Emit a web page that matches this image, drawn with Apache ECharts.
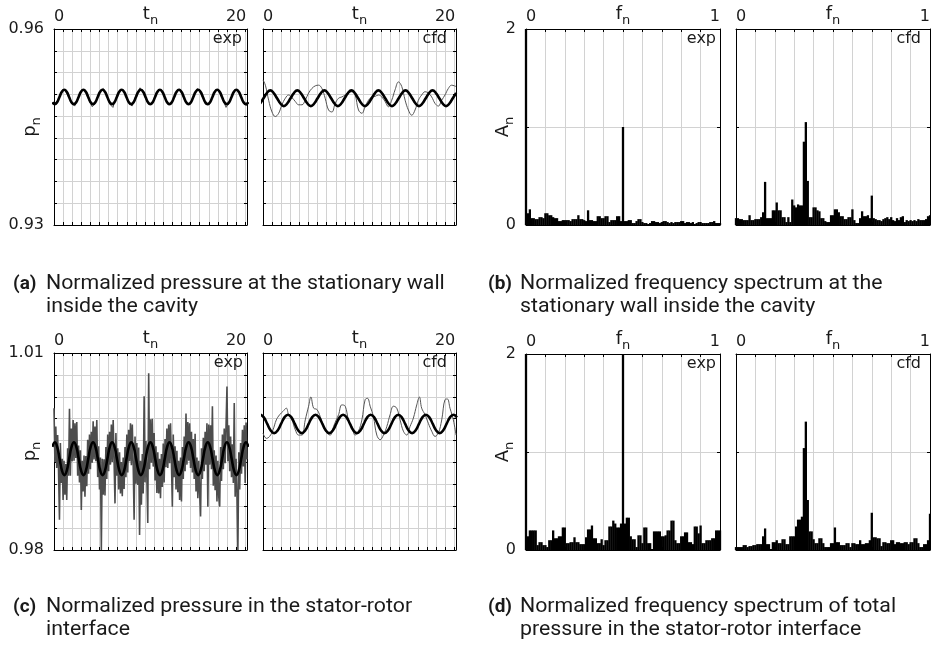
<!DOCTYPE html>
<html>
<head>
<meta charset="utf-8">
<script src="https://cdn.jsdelivr.net/npm/echarts@6/dist/echarts.min.js"></script>
<style>
  html, body { margin: 0; padding: 0; background: #fff; }
  #chart { width: 931px; height: 645px; }
</style>
</head>
<body>
<div id="chart"></div>
<script>
// ---------- axes ----------
const timeExtent = [0, 21.2];
const freqExtent = [0, 1];
const timeTickLabels = [0, 20];
const freqTickLabels = [0, 1];
const wallPressureRange = [0.93, 0.96];
const interfacePressureRange = [0.98, 1.01];
const amplitudeRange = [0, 2];
const freqStep = 0.01;

// ---------- (a) pressure at the stationary wall ----------
// measured signal, sampled every 0.175 from t = 0
const wallExpStep = 0.175;
const wallExpSignal = [
  0.9485,0.9483,0.9490,0.9495,0.9498,0.9505,0.9508,0.9506,0.9503,0.9497,0.9492,0.9487,
  0.9484,0.9482,0.9489,0.9494,0.9500,0.9503,0.9507,0.9508,0.9502,0.9500,0.9491,0.9486,
  0.9481,0.9484,0.9487,0.9494,0.9498,0.9505,0.9506,0.9509,0.9503,0.9498,0.9492,0.9485,
  0.9484,0.9480,0.9488,0.9492,0.9500,0.9504,0.9508,0.9505,0.9504,0.9497,0.9494,0.9487,
  0.9485,0.9482,0.9489,0.9495,0.9499,0.9506,0.9510,0.9506,0.9502,0.9499,0.9491,0.9486,
  0.9483,0.9485,0.9486,0.9493,0.9501,0.9503,0.9507,0.9507,0.9505,0.9498,0.9493,0.9488,
  0.9484,0.9481,0.9488,0.9494,0.9498,0.9505,0.9506,0.9508,0.9503,0.9499,0.9490,0.9487,
  0.9485,0.9483,0.9487,0.9495,0.9500,0.9504,0.9509,0.9506,0.9502,0.9497,0.9492,0.9485,
  0.9482,0.9484,0.9489,0.9492,0.9499,0.9505,0.9507,0.9508,0.9504,0.9498,0.9493,0.9486,
  0.9480,0.9483,0.9488,0.9494,0.9500,0.9503,0.9508,0.9506,0.9503,0.9499,0.9491,0.9487,
  0.9484,0.9482
];
// fitted harmonic, sampled every 0.2625 from t = -0.1825
const wallExpFitStart = -0.1825, wallExpFitStep = 0.2625;
const wallExpFit = [
  0.9488,0.9485,0.9488,0.9496,0.9504,0.9507,0.9504,0.9496,
  0.9488,0.9485,0.9488,0.9496,0.9504,0.9507,0.9504,0.9496,
  0.9488,0.9485,0.9488,0.9496,0.9504,0.9507,0.9504,0.9496,
  0.9488,0.9485,0.9488,0.9496,0.9504,0.9507,0.9504,0.9496,
  0.9488,0.9485,0.9488,0.9496,0.9504,0.9507,0.9504,0.9496,
  0.9488,0.9485,0.9488,0.9496,0.9504,0.9507,0.9504,0.9496,
  0.9488,0.9485,0.9488,0.9496,0.9504,0.9507,0.9504,0.9496,
  0.9488,0.9485,0.9488,0.9496,0.9504,0.9507,0.9504,0.9496,
  0.9488,0.9485,0.9488,0.9496,0.9504,0.9507,0.9504,0.9496,
  0.9488,0.9485,0.9488,0.9496,0.9504,0.9507,0.9504,0.9496,
  0.9488,0.9485,0.9488
];
// simulated signal [t, p]
const wallCfdSignal = [
  [0,0.9522],[0.26,0.9514],[0.62,0.9491],[0.99,0.9473],[1.35,0.9466],[1.72,0.9471],
  [2.08,0.9484],[2.45,0.9494],[2.81,0.9499],[3.18,0.9495],[3.55,0.9489],[3.91,0.9484],
  [4.28,0.9484],[4.64,0.9491],[5.01,0.9502],[5.37,0.9509],[5.74,0.9513],[6.10,0.9514],
  [6.47,0.9509],[6.83,0.9494],[7.20,0.9476],[7.57,0.9473],[7.93,0.9486],[8.30,0.9494],
  [8.66,0.9496],[9.03,0.9499],[9.39,0.9502],[9.76,0.9504],[10.12,0.9499],[10.49,0.9476],
  [10.86,0.9471],[11.22,0.9481],[11.59,0.9491],[11.95,0.9496],[12.32,0.9497],[12.68,0.9499],
  [13.05,0.9496],[13.41,0.9489],[13.78,0.9481],[14.14,0.9491],[14.51,0.9507],[14.88,0.9519],
  [15.24,0.9512],[15.61,0.9491],[15.97,0.9476],[16.34,0.9468],[16.70,0.9476],[17.07,0.9491],
  [17.43,0.9499],[17.80,0.9504],[18.17,0.9502],[18.53,0.9496],[18.90,0.9486],[19.26,0.9482],
  [19.63,0.9491],[19.99,0.9499],[20.36,0.9509],[20.72,0.9514],[21.2,0.9512]
];
const wallCfdFitStart = -0.314, wallCfdFitStep = 0.37125;
const wallCfdFit = [
  0.9486,0.9494,0.9502,0.9506,0.9502,0.9494,0.9486,0.9482,
  0.9486,0.9494,0.9502,0.9506,0.9502,0.9494,0.9486,0.9482,
  0.9486,0.9494,0.9502,0.9506,0.9502,0.9494,0.9486,0.9482,
  0.9486,0.9494,0.9502,0.9506,0.9502,0.9494,0.9486,0.9482,
  0.9486,0.9494,0.9502,0.9506,0.9502,0.9494,0.9486,0.9482,
  0.9486,0.9494,0.9502,0.9506,0.9502,0.9494,0.9486,0.9482,
  0.9486,0.9494,0.9502,0.9506,0.9502,0.9494,0.9486,0.9482,
  0.9486,0.9494,0.9502
];

// ---------- (b) spectrum at the stationary wall, bins of 0.01 ----------
const wallExpSpectrum = [
  2.00,0.12,0.16,0.07,0.07,0.06,0.06,0.08,0.08,0.07,
  0.12,0.12,0.10,0.10,0.08,0.07,0.07,0.04,0.04,0.05,
  0.05,0.05,0.05,0.04,0.06,0.06,0.06,0.10,0.06,0.06,
  0.05,0.04,0.15,0.05,0.05,0.04,0.04,0.09,0.09,0.07,
  0.07,0.09,0.09,0.03,0.05,0.05,0.05,0.09,0.09,0.04,
  1.00,0.04,0.04,0.05,0.05,0.02,0.02,0.04,0.06,0.06,
  0.03,0.02,0.02,0.01,0.02,0.04,0.04,0.03,0.03,0.02,
  0.03,0.04,0.04,0.03,0.02,0.03,0.02,0.03,0.03,0.03,
  0.04,0.04,0.02,0.03,0.03,0.02,0.03,0.01,0.02,0.03,
  0.03,0.02,0.02,0.02,0.02,0.03,0.03,0.04,0.02,0.02,
  0.02
];
const wallCfdSpectrum = [
  0.07,0.07,0.06,0.06,0.05,0.05,0.05,0.10,0.05,0.05,
  0.06,0.06,0.06,0.08,0.13,0.44,0.07,0.07,0.07,0.15,
  0.15,0.23,0.15,0.15,0.08,0.08,0.03,0.08,0.03,0.26,
  0.20,0.18,0.21,0.20,0.20,0.85,1.05,0.45,0.08,0.08,
  0.18,0.18,0.15,0.14,0.07,0.07,0.04,0.03,0.03,0.10,
  0.10,0.16,0.16,0.13,0.09,0.09,0.06,0.06,0.08,0.08,
  0.16,0.05,0.02,0.02,0.07,0.14,0.09,0.09,0.10,0.07,
  0.30,0.07,0.06,0.05,0.05,0.04,0.06,0.07,0.08,0.06,
  0.08,0.05,0.04,0.07,0.05,0.08,0.09,0.03,0.05,0.04,
  0.05,0.04,0.05,0.04,0.06,0.05,0.05,0.05,0.06,0.09,
  0.10
];

// ---------- (c) pressure in the stator-rotor interface ----------
const rotorExpStep = 0.1;
const rotorExpSignal = [
  1.0016,0.9934,0.9988,0.9925,0.9975,0.9920,0.9846,0.9963,0.9902,0.9939,0.9876,0.9936,0.9884,0.9931,0.9876,0.9955,0.9913,1.0015,0.9913,0.9985,0.9935,
  0.9998,0.9936,0.9993,0.9940,0.9995,0.9913,0.9959,0.9903,0.9952,0.9861,0.9936,0.9889,0.9944,0.9881,0.9943,0.9897,0.9968,0.9916,0.9976,0.9923,0.9980,
  0.9933,0.9996,0.9938,0.9988,0.9935,0.9998,0.9911,0.9958,0.9892,0.9941,0.9800,0.9939,0.9884,0.9938,0.9883,0.9957,0.9908,0.9976,0.9920,0.9980,0.9930,
  0.9991,0.9934,0.9998,0.9935,0.9871,0.9978,0.9913,0.9955,0.9892,0.9949,0.9886,0.9934,0.9882,0.9941,0.9893,0.9957,0.9911,0.9976,0.9918,0.9983,0.9935,
  0.9993,0.9929,0.9991,0.9930,0.9846,0.9973,0.9901,0.9963,0.9899,0.9956,0.9823,0.9936,0.9869,0.9946,0.9886,1.0034,0.9903,0.9966,0.9910,0.9841,1.0069,
  0.9923,0.9999,0.9933,1.0000,0.9927,0.9978,0.9906,0.9958,0.9887,0.9949,0.9886,0.9939,0.9879,0.9946,0.9896,0.9962,0.9903,0.9969,0.9926,0.9985,0.9925,
  0.9991,0.9932,0.9993,0.9935,0.9866,0.9976,0.9911,0.9958,0.9892,0.9951,0.9888,0.9936,0.9876,0.9941,0.9874,0.9957,0.9908,0.9973,0.9920,1.0008,0.9930,
  0.9995,0.9936,0.9993,0.9925,0.9980,0.9918,0.9969,0.9908,0.9977,0.9889,0.9941,0.9879,0.9936,0.9886,0.9851,0.9955,0.9908,0.9971,0.9920,0.9980,0.9930,
  0.9993,0.9866,0.9991,0.9930,0.9990,0.9923,1.0019,0.9898,0.9952,0.9891,0.9944,0.9874,0.9936,0.9881,0.9866,0.9957,0.9905,0.9976,0.9923,0.9985,0.9932,
  0.9933,1.0049,0.9935,0.9990,0.9920,0.9973,0.9911,0.9961,0.9902,1.0024,0.9881,0.9939,0.9884,0.9800,0.9949,0.9892,0.9963,0.9916,0.9983,0.9927,0.9990,
  0.9902,0.9994,0.9938
];
const rotorExpFitStart = -0.1725, rotorExpFitStep = 0.2625;
const rotorExpFit = [
  0.9957,0.9964,0.9957,0.9939,0.9921,0.9914,0.9921,0.9939,
  0.9957,0.9964,0.9957,0.9939,0.9921,0.9914,0.9921,0.9939,
  0.9957,0.9964,0.9957,0.9939,0.9921,0.9914,0.9921,0.9939,
  0.9957,0.9964,0.9957,0.9939,0.9921,0.9914,0.9921,0.9939,
  0.9957,0.9964,0.9957,0.9939,0.9921,0.9914,0.9921,0.9939,
  0.9957,0.9964,0.9957,0.9939,0.9921,0.9914,0.9921,0.9939,
  0.9957,0.9964,0.9957,0.9939,0.9921,0.9914,0.9921,0.9939,
  0.9957,0.9964,0.9957,0.9939,0.9921,0.9914,0.9921,0.9939,
  0.9957,0.9964,0.9957,0.9939,0.9921,0.9914,0.9921,0.9939,
  0.9957,0.9964,0.9957,0.9939,0.9921,0.9914,0.9921,0.9939,
  0.9957,0.9964,0.9957
];
const rotorCfdSignal = [
  [0,0.9978],[0.37,0.9970],[0.73,0.9973],[1.10,0.9983],[1.46,0.9998],[1.83,1.0006],
  [2.19,1.0011],[2.56,1.0016],[2.81,1.0006],[3.18,0.9998],[3.55,0.9983],[3.91,0.9975],
  [4.28,0.9975],[4.64,0.9998],[5.01,1.0019],[5.26,1.0033],[5.56,1.0016],[5.92,1.0014],
  [6.29,1.0003],[6.65,0.9988],[7.02,0.9978],[7.38,0.9975],[7.75,0.9988],[8.04,0.9998],
  [8.30,1.0006],[8.66,1.0021],[9.03,1.0019],[9.39,0.9998],[9.76,0.9988],[10.12,0.9975],
  [10.49,0.9981],[10.86,0.9998],[11.22,1.0029],[11.48,1.0031],[11.77,1.0019],[12.13,1.0003],
  [12.50,0.9975],[12.87,0.9968],[13.23,0.9975],[13.60,0.9988],[13.96,1.0006],[14.33,1.0019],
  [14.69,1.0016],[15.06,0.9998],[15.42,0.9981],[15.79,0.9975],[16.15,0.9988],[16.52,1.0001],
  [16.89,1.0021],[17.18,1.0033],[17.43,1.0016],[17.80,1.0006],[18.16,0.9993],[18.53,0.9981],
  [18.90,0.9973],[19.26,0.9978],[19.63,0.9998],[19.99,1.0029],[20.25,1.0030],[20.54,1.0016],
  [20.91,0.9998],[21.2,0.9975]
];
const rotorCfdFitStart = -0.29, rotorCfdFitStep = 0.37875;
const rotorCfdFit = [
  1.0006,1.0002,0.9992,0.9982,0.9978,0.9982,0.9992,1.0002,
  1.0006,1.0002,0.9992,0.9982,0.9978,0.9982,0.9992,1.0002,
  1.0006,1.0002,0.9992,0.9982,0.9978,0.9982,0.9992,1.0002,
  1.0006,1.0002,0.9992,0.9982,0.9978,0.9982,0.9992,1.0002,
  1.0006,1.0002,0.9992,0.9982,0.9978,0.9982,0.9992,1.0002,
  1.0006,1.0002,0.9992,0.9982,0.9978,0.9982,0.9992,1.0002,
  1.0006,1.0002,0.9992,0.9982,0.9978,0.9982,0.9992,1.0002,
  1.0006,1.0002
];

// ---------- (d) spectrum of total pressure in the interface ----------
const rotorExpSpectrum = [
  2.00,0.14,0.20,0.20,0.20,0.20,0.05,0.08,0.08,0.05,
  0.05,0.03,0.10,0.10,0.20,0.12,0.12,0.14,0.14,0.23,
  0.23,0.07,0.07,0.08,0.08,0.13,0.08,0.08,0.06,0.06,
  0.06,0.13,0.21,0.21,0.25,0.12,0.12,0.07,0.07,0.11,
  0.05,0.10,0.10,0.24,0.24,0.30,0.27,0.23,0.23,0.27,
  2.00,0.27,0.33,0.33,0.14,0.11,0.11,0.03,0.15,0.15,
  0.07,0.23,0.23,0.07,0.07,0.01,0.19,0.19,0.19,0.19,
  0.14,0.14,0.15,0.20,0.20,0.30,0.30,0.10,0.07,0.07,
  0.14,0.14,0.18,0.18,0.08,0.08,0.06,0.24,0.24,0.17,
  0.25,0.07,0.07,0.10,0.10,0.10,0.12,0.12,0.20,0.20,
  0.20
];
const rotorCfdSpectrum = [
  0.03,0.03,0.03,0.03,0.05,0.05,0.03,0.04,0.04,0.05,
  0.05,0.06,0.06,0.06,0.14,0.22,0.06,0.06,0.01,0.08,
  0.08,0.10,0.07,0.07,0.11,0.11,0.06,0.06,0.14,0.14,
  0.14,0.24,0.31,0.31,0.34,1.04,1.31,0.51,0.19,0.19,
  0.11,0.07,0.07,0.12,0.12,0.07,0.03,0.03,0.03,0.07,
  0.07,0.23,0.08,0.08,0.05,0.05,0.05,0.07,0.07,0.03,
  0.07,0.07,0.06,0.06,0.10,0.06,0.06,0.07,0.07,0.10,
  0.38,0.13,0.13,0.12,0.12,0.04,0.08,0.08,0.07,0.07,
  0.10,0.10,0.06,0.08,0.08,0.07,0.07,0.08,0.08,0.06,
  0.08,0.08,0.12,0.12,0.07,0.03,0.03,0.06,0.06,0.10,
  0.37
];

// ---------- helpers ----------
function sampled(t0, dt, values) {
  return values.map((v, i) => [+(t0 + i * dt).toFixed(5), v]);
}

const AXIS_FONT = 'DejaVu Sans';
const TEXT = '#1a1a1a';
const GRID_LINE = '#d2d2d2';

const nameStyle = {
  color: TEXT, fontFamily: AXIS_FONT,
  rich: {
    m: { fontSize: 18, fontFamily: AXIS_FONT, color: TEXT },
    s: { fontSize: 13, fontFamily: AXIS_FONT, color: TEXT, padding: [12, 0, 0, 0] }
  }
};

function timeSeries(signal, signalColor, signalWidth, fit) {
  return [
    { data: signal, color: signalColor, width: signalWidth, smooth: false },
    { data: fit, color: '#000', width: 2.6, smooth: true }
  ];
}

const panels = [
  { left: 54, top: 29, w: 193, h: 196, kind: 'time', yRange: wallPressureRange, yLabels: true, tag: 'exp', tagInset: 5,
    lines: timeSeries(sampled(0, wallExpStep, wallExpSignal), '#4a4a4a', 1, sampled(wallExpFitStart, wallExpFitStep, wallExpFit)) },
  { left: 263, top: 29, w: 193, h: 196, kind: 'time', yRange: wallPressureRange, yLabels: false, tag: 'cfd', tagInset: 9,
    lines: [ { data: wallCfdSignal, color: '#555', width: 1, smooth: 0.4 },
             { data: sampled(wallCfdFitStart, wallCfdFitStep, wallCfdFit), color: '#000', width: 2.6, smooth: true } ] },
  { left: 526, top: 29, w: 194, h: 196, kind: 'freq', yRange: amplitudeRange, yLabels: true, tag: 'exp', tagInset: 4,
    bars: wallExpSpectrum },
  { left: 736, top: 29, w: 194, h: 196, kind: 'freq', yRange: amplitudeRange, yLabels: false, tag: 'cfd', tagInset: 9,
    bars: wallCfdSpectrum },
  { left: 54, top: 353, w: 193, h: 197, kind: 'time', yRange: interfacePressureRange, yLabels: true, tag: 'exp', tagInset: 4,
    lines: timeSeries(sampled(0, rotorExpStep, rotorExpSignal), '#4d4d4d', 1.6, sampled(rotorExpFitStart, rotorExpFitStep, rotorExpFit)) },
  { left: 263, top: 353, w: 193, h: 197, kind: 'time', yRange: interfacePressureRange, yLabels: false, tag: 'cfd', tagInset: 9,
    lines: [ { data: rotorCfdSignal, color: '#555', width: 1, smooth: 0.4 },
             { data: sampled(rotorCfdFitStart, rotorCfdFitStep, rotorCfdFit), color: '#000', width: 2.6, smooth: true } ] },
  { left: 526, top: 354, w: 194, h: 196, kind: 'freq', yRange: amplitudeRange, yLabels: true, tag: 'exp', tagInset: 4,
    bars: rotorExpSpectrum },
  { left: 736, top: 354, w: 194, h: 196, kind: 'freq', yRange: amplitudeRange, yLabels: false, tag: 'cfd', tagInset: 9,
    bars: rotorCfdSpectrum }
];

const option = {
  animation: false,
  backgroundColor: '#fff',
  grid: [], xAxis: [], yAxis: [], series: [], graphic: []
};

const near = (a, b) => Math.abs(a - b) < 1e-7;

panels.forEach((p, i) => {
  const isTime = p.kind === 'time';
  option.grid.push({ left: p.left, top: p.top, width: p.w, height: p.h, containLabel: false, outerBoundsMode: 'none' });

  const ext = isTime ? timeExtent : freqExtent;
  const xLabels = isTime ? timeTickLabels : freqTickLabels;
  const frame = {
    axisLine: { show: true, onZero: false, lineStyle: { color: '#000', width: 1 } },
    axisTick: { show: true, inside: true, length: 3, lineStyle: { color: '#000', width: 1 } }
  };
  const xBase = Object.assign({ type: 'value', gridIndex: i, min: ext[0], max: ext[1], interval: isTime ? 1 : 0.1 }, frame);
  option.xAxis.push(Object.assign({}, xBase, {
    position: 'top',
    splitLine: { show: true, lineStyle: { color: GRID_LINE, width: 1 } },
    axisLabel: {
      show: true, margin: 4, fontFamily: AXIS_FONT, fontSize: 16, color: TEXT,
      alignMinLabel: 'left', alignMaxLabel: isTime ? 'center' : 'right',
      formatter: v => xLabels.some(l => near(l, v)) ? String(v) : ''
    },
    name: '{m|' + (isTime ? 't' : 'f') + '}{s|n}',
    nameLocation: 'middle', nameGap: 2, nameMoveOverlap: false, nameTextStyle: nameStyle
  }));
  option.xAxis.push(Object.assign({}, xBase, {
    position: 'bottom', splitLine: { show: false }, axisLabel: { show: false }
  }));

  const yr = p.yRange;
  const yBase = Object.assign({ type: 'value', gridIndex: i, min: yr[0], max: yr[1], interval: isTime ? (yr[1] - yr[0]) / 9 : 1 }, frame);
  option.yAxis.push(Object.assign({}, yBase, {
    position: 'left',
    splitLine: { show: true, lineStyle: { color: GRID_LINE, width: 1 } },
    axisLabel: {
      show: p.yLabels, margin: 10, fontFamily: AXIS_FONT, fontSize: 16, color: TEXT,
      formatter: v => (near(v, yr[0]) || near(v, yr[1])) ? v.toFixed(isTime ? 2 : 0) : ''
    },
    name: p.yLabels ? '{m|' + (isTime ? 'p' : 'A') + '}{s|n}' : '',
    nameLocation: 'middle', nameGap: isTime ? 11 : 10, nameMoveOverlap: false, nameTextStyle: nameStyle
  }));
  option.yAxis.push(Object.assign({}, yBase, {
    position: 'right', splitLine: { show: false }, axisLabel: { show: false }
  }));

  if (isTime) {
    p.lines.forEach((l, k) => option.series.push({
      type: 'line', xAxisIndex: 2 * i, yAxisIndex: 2 * i, data: l.data,
      symbol: 'none', smooth: l.smooth, z: 2 + k,
      lineStyle: { color: l.color, width: l.width }
    }));
  } else {
    option.series.push({
      type: 'bar', xAxisIndex: 2 * i, yAxisIndex: 2 * i,
      data: sampled(0, freqStep, p.bars),
      barWidth: 2.3, clip: true,
      itemStyle: { color: '#000', borderWidth: 0 }
    });
  }

  option.graphic.push({
    type: 'text', x: p.left + p.w - p.tagInset, y: p.top + 10, z: 100,
    style: { text: p.tag, fontFamily: AXIS_FONT, fontSize: 16, fill: TEXT, align: 'right', verticalAlign: 'middle' }
  });
});

// sub-figure captions
const captions = [
  { x: 13, textX: 46, y: 284, label: '(a)', lines: ['Normalized pressure at the stationary wall', 'inside the cavity'] },
  { x: 488, textX: 520, y: 284, label: '(b)', lines: ['Normalized frequency spectrum at the', 'stationary wall inside the cavity'] },
  { x: 13, textX: 46, y: 607, label: '(c)', lines: ['Normalized pressure in the stator-rotor', 'interface'] },
  { x: 488, textX: 520, y: 607, label: '(d)', lines: ['Normalized frequency spectrum of total', 'pressure in the stator-rotor interface'] }
];
captions.forEach(c => {
  option.graphic.push({
    type: 'text', x: c.x, y: c.y,
    style: { text: c.label, fontFamily: 'Roboto', fontWeight: 'bold', fontSize: 19, fill: TEXT, verticalAlign: 'middle' }
  });
  c.lines.forEach((line, k) => option.graphic.push({
    type: 'text', x: c.textX, y: c.y + 23 * k, scaleX: 1.065,
    style: { text: line, fontFamily: 'Roboto', fontSize: 20, fill: TEXT, verticalAlign: 'middle' }
  }));
});

const chart = echarts.init(document.getElementById('chart'), null, { renderer: 'canvas' });
chart.setOption(option);
</script>
</body>
</html>
